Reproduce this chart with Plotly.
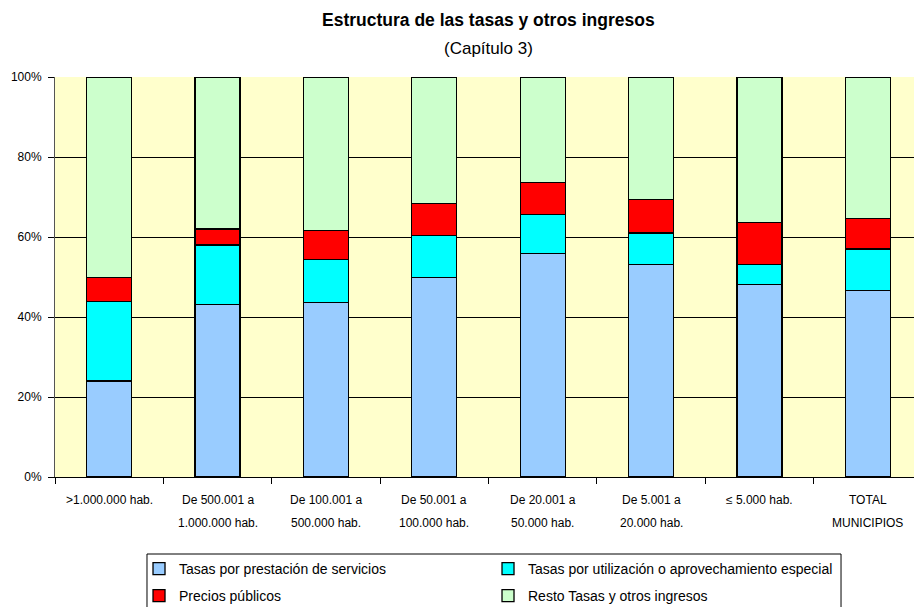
import plotly.graph_objects as go

categories = [">1.000.000 hab.", "De 500.001 a 1.000.000 hab.", "De 100.001 a 500.000 hab.",
              "De 50.001 a 100.000 hab.", "De 20.001 a 50.000 hab.", "De 5.001 a 20.000 hab.",
              "≤ 5.000 hab.", "TOTAL MUNICIPIOS"]
label_line1 = [">1.000.000 hab.", "De 500.001 a", "De 100.001 a", "De 50.001 a",
               "De 20.001 a", "De 5.001 a", "≤ 5.000 hab.", "TOTAL"]
label_line2 = ["", "1.000.000 hab.", "500.000 hab.", "100.000 hab.",
               "50.000 hab.", "20.000 hab.", "", "MUNICIPIOS"]

series_names = ["Tasas por prestación de servicios",
                "Tasas por utilización o aprovechamiento especial",
                "Precios públicos",
                "Resto Tasas y otros ingresos"]
tasas_servicios = [24.0, 43.2, 43.6, 49.8, 55.8, 53.2, 48.2, 46.6]
tasas_utilizacion = [19.8, 14.8, 10.8, 10.5, 9.9, 7.8, 4.9, 10.4]
precios_publicos = [6.0, 4.0, 7.3, 8.0, 7.9, 8.3, 10.6, 7.7]
resto = [50.2, 38.0, 38.3, 31.7, 26.4, 30.7, 36.3, 35.3]

y_ticks = [0, 20, 40, 60, 80, 100]
y_ticktext = ["0%", "20%", "40%", "60%", "80%", "100%"]

title_text = "Estructura de las tasas y otros ingresos"
subtitle_text = "(Capítulo 3)"

colors = ["#99CCFF", "#00FFFF", "#FF0000", "#CCFFCC"]
values = [tasas_servicios, tasas_utilizacion, precios_publicos, resto]
legend_ids = ["legend", "legend", "legend2", "legend2"]

FONT = "Liberation Sans, Arial, sans-serif"

fig = go.Figure()
for name, vals, col, lg in zip(series_names, values, colors, legend_ids):
    fig.add_trace(go.Bar(
        x=categories, y=vals, name=name, legend=lg,
        marker=dict(color=col, line=dict(color="#000000", width=1.3)),
    ))

annotations = []
for cat, l1, l2 in zip(categories, label_line1, label_line2):
    annotations.append(dict(x=cat, xref="x", y=-0.0575, yref="paper", text=l1,
                            showarrow=False, font=dict(family=FONT, size=12, color="#000"),
                            xanchor="center", yanchor="middle"))
    if l2:
        annotations.append(dict(x=cat, xref="x", y=-0.115, yref="paper", text=l2,
                                showarrow=False, font=dict(family=FONT, size=12, color="#000"),
                                xanchor="center", yanchor="middle"))

annotations.append(dict(x=0.5, xref="paper", y=1.1425, yref="paper",
                        text="<b>" + title_text + "</b>",
                        showarrow=False, font=dict(family=FONT, size=17.5, color="#000"),
                        xanchor="center", yanchor="middle"))
annotations.append(dict(x=0.5, xref="paper", y=1.072, yref="paper",
                        text=subtitle_text,
                        showarrow=False, font=dict(family=FONT, size=17, color="#000"),
                        xanchor="center", yanchor="middle"))

legend_common = dict(
    orientation="h", x=0.0969, xanchor="left", yanchor="top",
    bgcolor="rgba(0,0,0,0)", borderwidth=0,
    font=dict(family=FONT, size=14, color="#000"),
    entrywidth=304, entrywidthmode="pixels", traceorder="normal",
)

fig.update_layout(
    barmode="stack",
    bargap=0.585,
    width=922, height=607,
    margin=dict(l=47, r=8, t=69, b=138, autoexpand=False),
    paper_bgcolor="#FFFFFF",
    plot_bgcolor="#FFFFCC",
    font=dict(family=FONT, size=12, color="#000"),
    showlegend=True,
    legend=dict(y=-0.19, **legend_common),
    legend2=dict(y=-0.2575, **legend_common),
    annotations=annotations,
    shapes=[dict(type="rect", xref="paper", yref="paper",
                 x0=0.1061, x1=0.9066, y0=-0.1925, y1=-0.36,
                 line=dict(color="#000", width=1), fillcolor="#FFFFFF", layer="below")],
    xaxis=dict(
        type="category", range=[-0.5, 7.5],
        showticklabels=False, ticks="outside", tickson="boundaries",
        ticklen=6, tickcolor="#000", showline=True, linecolor="#000", linewidth=1,
        showgrid=False, fixedrange=True,
    ),
    yaxis=dict(
        range=[0, 100], tickvals=y_ticks, ticktext=y_ticktext,
        ticks="outside", ticklen=6, tickcolor="#000",
        showline=True, linecolor="#555", linewidth=1,
        showgrid=True, gridcolor="#000", gridwidth=1,
        zeroline=False, tickfont=dict(family=FONT, size=12, color="#000"),
        ticklabelstandoff=4,
        fixedrange=True,
    ),
)

fig.write_html("out.html")
